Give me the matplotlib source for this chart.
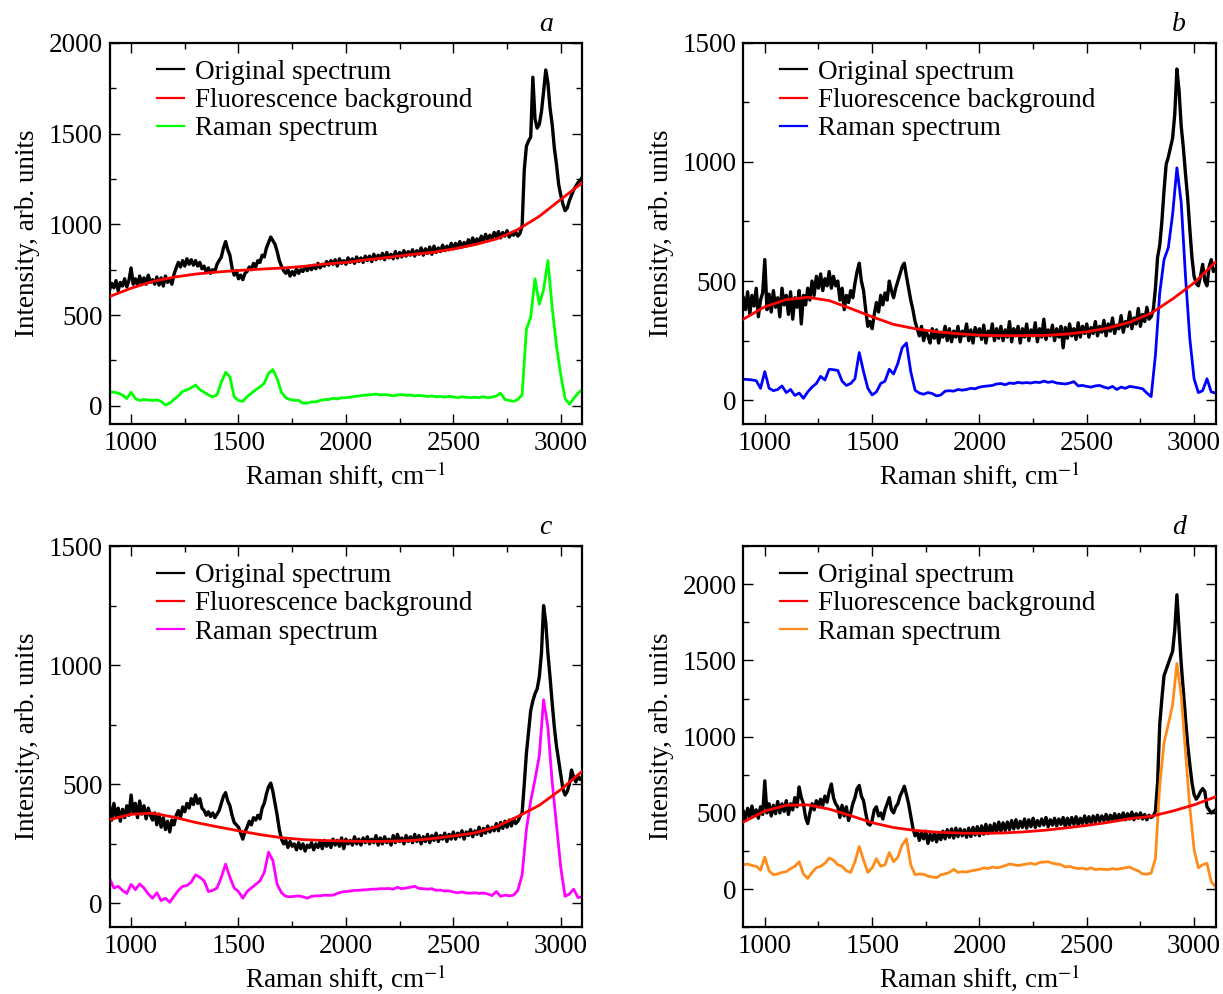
import numpy as np
import matplotlib
matplotlib.use("Agg")
import matplotlib.pyplot as plt
from matplotlib.ticker import MultipleLocator

plt.rcParams['font.family'] = ['Liberation Serif', 'DejaVu Serif']
plt.rcParams['mathtext.fontset'] = 'stix'
plt.rcParams['font.size'] = 19.5

# Raman shift grids (cm^-1): original every 10, Raman every 20, background every 100
shift_orig = np.arange(900, 3101, 10)
shift = np.arange(900, 3101, 20)
shift_bg = np.arange(900, 3101, 100)

# ---- panel a ----
orig_a = [640, 675, 650, 690, 635, 680, 660, 700, 655, 690, 760, 670, 700, 665, 715, 675, 705, 670, 720, 680,
          695, 670, 710, 665, 705, 660, 715, 680, 700, 670, 725, 760, 790, 765, 800, 770, 810, 780, 805, 775,
          800, 770, 790, 755, 770, 735, 760, 730, 750, 740, 780, 800, 820, 870, 905, 860, 830, 760, 720, 745,
          700, 720, 695, 730, 740, 765, 750, 785, 765, 800, 790, 830, 820, 870, 900, 930, 910, 890, 850, 800,
          770, 745, 730, 750, 715, 740, 720, 755, 730, 750, 740, 765, 745, 770, 750, 775, 755, 785, 760, 780,
          770, 795, 775, 800, 780, 805, 770, 810, 785, 800, 780, 815, 790, 810, 785, 820, 795, 815, 790, 825,
          800, 825, 795, 835, 805, 830, 810, 840, 805, 845, 815, 835, 810, 850, 815, 845, 820, 855, 825, 850,
          830, 860, 825, 855, 835, 870, 830, 865, 840, 875, 835, 880, 845, 870, 850, 885, 855, 880, 860, 895,
          865, 895, 870, 905, 875, 900, 880, 915, 885, 925, 895, 920, 900, 935, 905, 945, 915, 940, 920, 955,
          930, 960, 925, 955, 935, 965, 930, 950, 940, 960, 935, 950, 990, 1300, 1430, 1460, 1480, 1810, 1580, 1530,
          1550, 1620, 1730, 1850, 1780, 1640, 1550, 1420, 1330, 1220, 1160, 1110, 1075, 1090, 1130, 1160, 1190, 1210, 1230, 1240,
          1260]
bg_a = [602, 648, 685, 709, 726, 737, 746, 753, 759, 768, 781, 790,
        805, 818, 833, 845, 864, 888, 919, 971, 1044, 1137, 1229]
raman_a = [77, 75, 70, 60, 40, 75, 40, 30, 35, 32,
           30, 33, 25, 5, 15, 35, 55, 80, 88, 100,
           115, 90, 75, 60, 50, 60, 130, 185, 160, 50,
           30, 25, 50, 70, 88, 105, 125, 180, 200, 150,
           75, 45, 35, 30, 30, 15, 15, 22, 22, 30,
           35, 35, 42, 38, 45, 45, 48, 52, 55, 58,
           60, 62, 65, 60, 62, 60, 55, 60, 62, 58,
           60, 55, 58, 55, 52, 55, 50, 52, 48, 52,
           50, 45, 50, 48, 45, 48, 45, 50, 45, 48,
           55, 70, 35, 30, 25, 35, 60, 420, 490, 700,
           560, 640, 800, 540, 330, 170, 40, 10, 40, 70,
           90]

# ---- panel b ----
orig_b = [430, 380, 455, 360, 440, 395, 470, 350, 420, 450, 590, 380, 445, 370, 460, 390, 430, 350, 470, 400,
          440, 360, 455, 340, 430, 390, 460, 320, 440, 400, 470, 420, 500, 440, 520, 470, 530, 460, 510, 480,
          540, 470, 520, 480, 500, 420, 470, 380, 440, 410, 460, 430, 490, 540, 575, 500, 460, 380, 310, 330,
          300, 360, 410, 370, 440, 400, 450, 420, 500, 460, 430, 470, 500, 530, 560, 575, 520, 470, 420, 380,
          330, 300, 270, 310, 250, 290, 270, 240, 300, 260, 295, 240, 285, 265, 310, 250, 300, 245, 290, 265,
          310, 245, 290, 270, 320, 250, 295, 240, 305, 270, 300, 255, 315, 240, 290, 270, 320, 250, 300, 260,
          310, 250, 295, 265, 330, 245, 300, 270, 310, 240, 300, 265, 320, 250, 295, 270, 325, 245, 300, 265,
          340, 255, 295, 270, 315, 250, 300, 265, 310, 220, 305, 260, 320, 270, 300, 255, 325, 265, 310, 280,
          320, 265, 305, 280, 330, 270, 310, 285, 335, 270, 320, 290, 345, 280, 315, 300, 355, 285, 330, 310,
          370, 300, 345, 320, 385, 310, 360, 330, 390, 340, 350, 380, 470, 600, 650, 750, 880, 990, 1020, 1060,
          1100, 1200, 1390, 1300, 1150, 1060, 950, 850, 720, 600, 520, 490, 480, 520, 570, 500, 480, 560, 590, 540,
          550]
bg_b = [340, 392, 422, 432, 418, 385, 350, 318, 300, 287, 279, 273,
        271, 271, 272, 277, 287, 303, 327, 365, 425, 492, 580]
raman_b = [88, 87, 85, 82, 50, 120, 50, 40, 45, 60,
           32, 45, 20, 30, 8, 35, 55, 70, 100, 85,
           130, 128, 125, 80, 62, 70, 90, 200, 120, 50,
           22, 35, 70, 80, 130, 110, 155, 220, 240, 120,
           42, 30, 25, 32, 28, 18, 22, 38, 40, 38,
           45, 42, 45, 50, 48, 55, 58, 60, 62, 68,
           70, 65, 72, 70, 75, 72, 74, 72, 76, 74,
           80, 75, 78, 72, 70, 68, 72, 78, 60, 62,
           58, 55, 60, 62, 55, 50, 58, 45, 55, 50,
           58, 55, 52, 48, 30, 15, 190, 450, 590, 640,
           780, 975, 830, 520, 260, 90, 32, 40, 90, 35,
           30]

# ---- panel c ----
orig_c = [410, 350, 420, 365, 400, 345, 395, 360, 410, 370, 455, 380, 420, 360, 430, 375, 410, 355, 400, 370,
          350, 380, 330, 375, 320, 360, 310, 345, 300, 350, 330, 370, 390, 360, 405, 385, 420, 400, 440, 415,
          455, 420, 440, 400, 390, 370, 385, 365, 380, 360, 375, 390, 420, 450, 465, 430, 410, 370, 340, 330,
          320, 295, 270, 300, 320, 345, 330, 360, 350, 370, 355, 400, 420, 460, 490, 505, 470, 420, 370, 310,
          270, 250, 265, 235, 260, 240, 250, 225, 255, 230, 250, 220, 245, 235, 255, 225, 250, 235, 260, 230,
          265, 240, 260, 235, 270, 245, 265, 240, 275, 230, 270, 250, 265, 245, 280, 250, 270, 245, 275, 255,
          280, 250, 270, 255, 285, 245, 275, 250, 280, 255, 270, 245, 285, 255, 290, 260, 275, 250, 285, 260,
          280, 255, 290, 260, 285, 250, 280, 260, 290, 255, 285, 265, 295, 260, 285, 270, 295, 260, 290, 270,
          300, 270, 295, 280, 305, 270, 300, 285, 310, 280, 305, 290, 320, 285, 315, 295, 325, 300, 320, 305,
          335, 305, 340, 315, 345, 320, 350, 325, 355, 335, 345, 365, 380, 500, 630, 720, 810, 850, 880, 900,
          950, 1050, 1250, 1180, 1050, 950, 840, 740, 660, 600, 540, 480, 455, 470, 500, 560, 530, 510, 535, 520,
          530]
bg_c = [352, 374, 379, 362, 340, 322, 305, 289, 276, 268, 264, 262,
        260, 261, 264, 272, 283, 296, 322, 365, 412, 478, 555]
raman_c = [105, 65, 72, 55, 42, 80, 58, 82, 65, 40,
           22, 45, 12, 22, 5, 30, 55, 72, 75, 90,
           120, 110, 95, 50, 55, 65, 110, 165, 110, 65,
           50, 22, 50, 65, 80, 95, 130, 215, 180, 80,
           45, 30, 28, 30, 32, 28, 22, 30, 32, 32,
           35, 34, 35, 42, 48, 50, 52, 55, 55, 57,
           58, 60, 60, 62, 62, 63, 60, 68, 62, 65,
           68, 72, 63, 62, 60, 62, 55, 56, 52, 53,
           48, 45, 48, 44, 43, 45, 42, 44, 40, 33,
           50, 30, 35, 32, 35, 55, 120, 310, 430, 520,
           620, 855, 740, 510, 330, 150, 30, 40, 60, 25,
           28]

# ---- panel d ----
orig_d = [510, 460, 530, 470, 545, 480, 520, 465, 540, 490, 710, 500, 560, 480, 550, 495, 575, 500, 560, 510,
          580, 490, 560, 520, 600, 540, 670, 600, 560, 470, 430, 500, 560, 520, 580, 540, 590, 550, 610, 570,
          640, 690, 600, 560, 540, 470, 550, 480, 540, 450, 500, 560, 600, 660, 680, 610, 580, 500, 430, 420,
          450, 520, 540, 480, 500, 460, 520, 560, 600, 520, 500, 540, 560, 610, 640, 675, 620, 560, 480, 400,
          350, 380, 320, 370, 330, 380, 300, 360, 320, 370, 310, 365, 325, 380, 330, 390, 340, 395, 335, 400,
          345, 395, 350, 390, 340, 400, 345, 405, 355, 410, 350, 415, 360, 425, 365, 420, 370, 430, 375, 440,
          380, 435, 385, 440, 390, 450, 395, 455, 400, 445, 405, 460, 400, 455, 410, 465, 405, 450, 415, 460,
          420, 470, 410, 455, 420, 465, 415, 460, 425, 470, 410, 465, 420, 470, 425, 475, 420, 465, 430, 480,
          430, 475, 435, 480, 440, 485, 445, 480, 450, 490, 445, 485, 455, 495, 450, 490, 460, 500, 455, 495,
          460, 505, 455, 495, 465, 500, 460, 490, 455, 485, 470, 480, 510, 700, 1080, 1250, 1400, 1440, 1480, 1520,
          1560, 1700, 1930, 1700, 1480, 1300, 1120, 950, 820, 700, 620, 590, 610, 640, 660, 640, 540, 520, 500, 510,
          520]
bg_d = [440, 512, 550, 553, 525, 482, 436, 404, 385, 374, 368, 366,
        368, 375, 386, 401, 418, 438, 462, 478, 512, 553, 605]
raman_d = [160, 165, 155, 150, 125, 210, 120, 95, 100, 110,
           115, 135, 150, 180, 100, 70, 110, 140, 150, 170,
           205, 190, 160, 150, 120, 110, 180, 280, 190, 110,
           140, 200, 150, 160, 240, 180, 210, 290, 330, 160,
           95, 100, 98, 85, 80, 75, 95, 100, 110, 130,
           110, 115, 112, 120, 125, 130, 140, 135, 145, 140,
           145, 155, 165, 160, 155, 160, 165, 170, 162, 175,
           178, 180, 170, 165, 160, 145, 150, 140, 135, 138,
           130, 140, 128, 132, 130, 128, 135, 130, 135, 140,
           145, 130, 120, 100, 98, 105, 200, 680, 960, 1080,
           1210, 1480, 1270, 900, 540, 260, 140, 160, 170, 50,
           15]

panel_letters = ['a', 'b', 'c', 'd']
raman_colors = ['#00ff00', '#0000ff', '#ff00ff', '#ff8c1a']
y_limits = [(-100, 2000), (-100, 1500), (-100, 1500), (-250, 2250)]

fig = plt.figure(figsize=(12.23, 9.94), dpi=100)
posiciones = [[0.0896, 0.5734, 0.3865, 0.3836],
              [0.6078, 0.5734, 0.3861, 0.3836],
              [0.0896, 0.0671, 0.3865, 0.3836],
              [0.6078, 0.0671, 0.3861, 0.3836]]
leyenda_x = [0.101, 0.078, 0.101, 0.078]

datos = [(orig_a, bg_a, raman_a), (orig_b, bg_b, raman_b),
         (orig_c, bg_c, raman_c), (orig_d, bg_d, raman_d)]

for i in range(4):
    ax = fig.add_axes(posiciones[i])
    orig, bg, raman = datos[i]
    ax.plot(shift_orig, orig, color='black', lw=2.4, label='Original spectrum', zorder=2)
    ax.plot(shift_bg, bg, color='#ff0000', lw=2.0, label='Fluorescence background', zorder=3)
    ax.plot(shift, raman, color=raman_colors[i], lw=2.0, label='Raman spectrum', zorder=2)

    ax.set_xlim(900, 3100)
    ax.set_ylim(*y_limits[i])
    ax.xaxis.set_major_locator(MultipleLocator(500))
    ax.xaxis.set_minor_locator(MultipleLocator(250))
    ax.yaxis.set_major_locator(MultipleLocator(500))
    ax.yaxis.set_minor_locator(MultipleLocator(250))
    ax.tick_params(which='both', direction='in', top=True, right=True, width=1.0)
    ax.tick_params(which='major', length=7, pad=5)
    ax.tick_params(which='minor', length=4.5)
    for s in ax.spines.values():
        s.set_linewidth(1.6)

    ax.set_xlabel('Raman shift, cm$^{-1}$', labelpad=2)
    ax.set_ylabel('Intensity, arb. units', labelpad=6)

    leg = ax.legend(loc='upper left', bbox_to_anchor=(leyenda_x[i], 0.955),
                    frameon=False, borderpad=0, borderaxespad=0,
                    handlelength=1.0, handletextpad=0.4, labelspacing=0.12)
    for h in leg.get_lines():
        h.set_linewidth(1.6)

    ax.text(2930, 1.015, panel_letters[i], transform=ax.get_xaxis_transform(),
            ha='center', va='bottom', style='italic', fontsize=20)

plt.savefig('out.png', dpi=100)
